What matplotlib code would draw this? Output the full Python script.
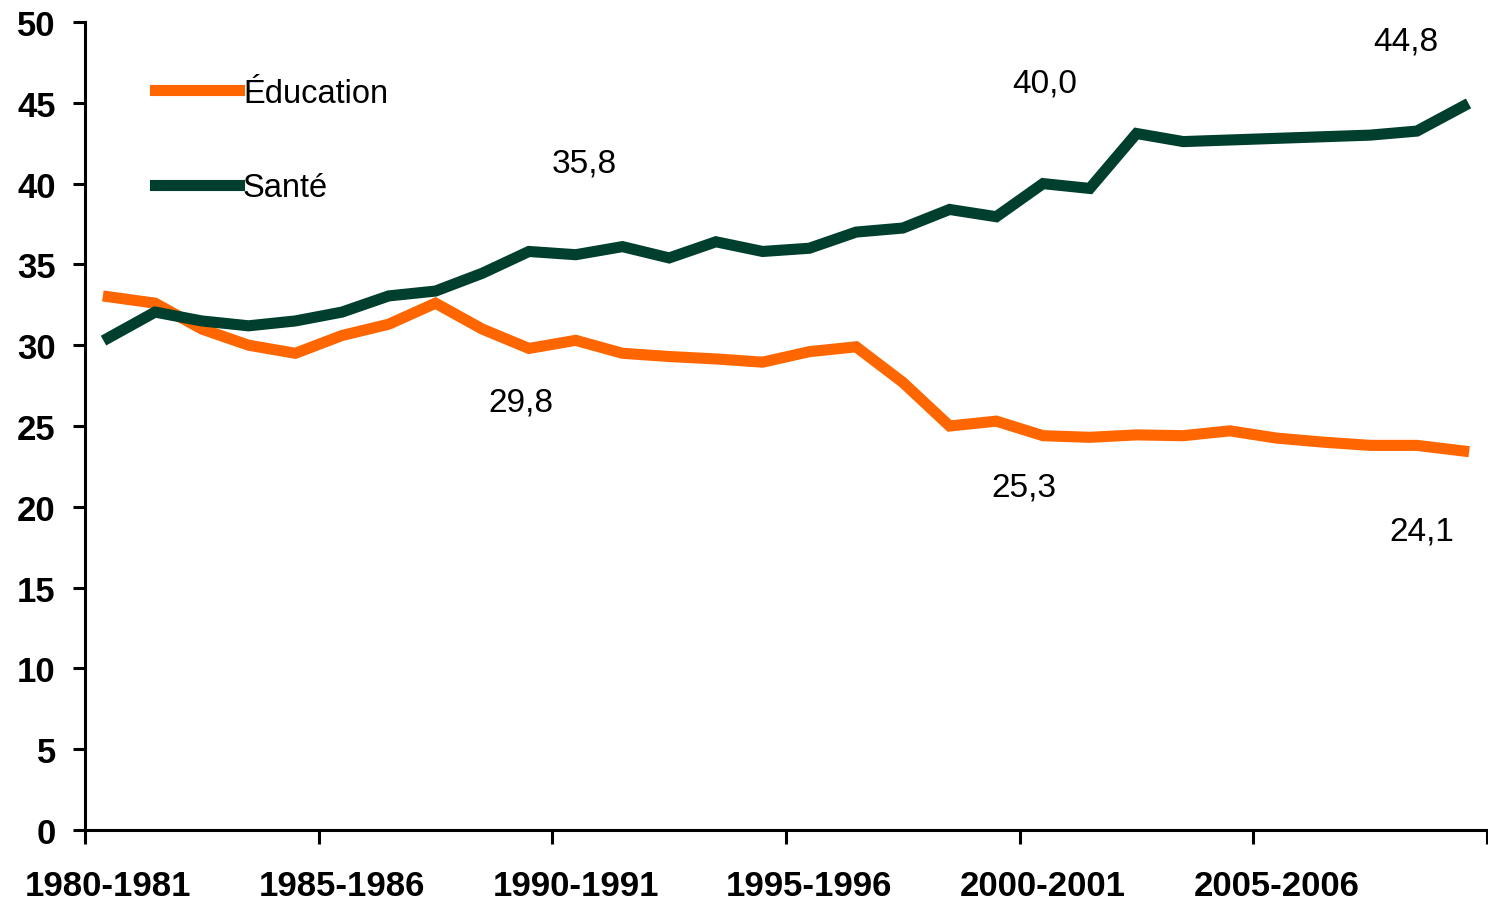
import matplotlib
matplotlib.use("Agg")
import matplotlib.pyplot as plt

plt.rcParams["font.family"] = ["Liberation Sans", "DejaVu Sans"]

# Part des dépenses (%) par exercice financier, 1980-1981 à 2009-2010
years = [f"{y}-{y + 1}" for y in range(1980, 2010)]
education = [33.0, 32.6, 31.0, 30.0, 29.5, 30.6, 31.3, 32.6, 31.0, 29.8,
             30.3, 29.5, 29.3, 29.15, 28.95, 29.6, 29.9, 27.7, 25.0, 25.3,
             24.4, 24.3, 24.45, 24.4, 24.7, 24.25, 24.0, 23.8, 23.8, 23.45]
sante = [30.45, 32.05, 31.5, 31.2, 31.5, 32.05, 33.05, 33.35, 34.45, 35.8,
         35.6, 36.1, 35.4, 36.4, 35.8, 36.0, 37.0, 37.25, 38.4, 37.95,
         40.0, 39.7, 43.1, 42.6, 42.7, 42.8, 42.9, 43.0, 43.25, 44.8]

tick_labels = years[::5]
annotations = [
    ("35,8", 10.18, 41.3),
    ("29,8", 8.82, 26.5),
    ("40,0", 20.03, 46.2),
    ("25,3", 19.6, 21.2),
    ("44,8", 27.77, 48.8),
    ("24,1", 28.11, 18.5),
]

orange = "#FF6600"
green = "#003F2D"

fig = plt.figure(figsize=(14.88, 9.04), dpi=100)
ax = fig.add_axes([85 / 1488, 73 / 904, 1402 / 1488, 808 / 904])

x = list(range(len(years)))
ax.plot(x, education, color=orange, lw=8, solid_joinstyle="miter", label="Éducation")
ax.plot(x, sante, color=green, lw=8, solid_joinstyle="miter", label="Santé")

for txt, xx, yy in annotations:
    ax.text(xx, yy, txt, ha="center", va="center", fontsize=24, color="black")

ax.set_xlim(-0.5, len(years) - 0.5)
ax.set_ylim(0, 50)
ax.set_yticks(range(0, 51, 5))
ax.set_xticks([i - 0.5 for i in range(0, len(years) + 1, 5)])
ax.set_xticklabels([])
ax.set_xticks(list(range(0, len(years), 5)), minor=True)
ax.set_xticklabels(tick_labels, minor=True, fontsize=25, fontweight="bold")

ax.tick_params(axis="x", which="major", direction="out", length=10, width=2.2)
ax.tick_params(axis="x", which="minor", length=0, pad=28)
ax.tick_params(axis="y", direction="out", length=9, width=2.2, pad=12,
               labelsize=25)
for lbl in ax.get_yticklabels():
    lbl.set_fontweight("bold")

for s in ("top", "right"):
    ax.spines[s].set_visible(False)
for s in ("left", "bottom"):
    ax.spines[s].set_linewidth(2.2)

ax.legend(loc="upper left", bbox_to_anchor=(0.050, 0.931), frameon=False,
          fontsize=23.5, handlelength=2.57, handletextpad=0.12,
          labelspacing=1.94, borderpad=0, borderaxespad=0)

fig.savefig("out.png", dpi=100)
